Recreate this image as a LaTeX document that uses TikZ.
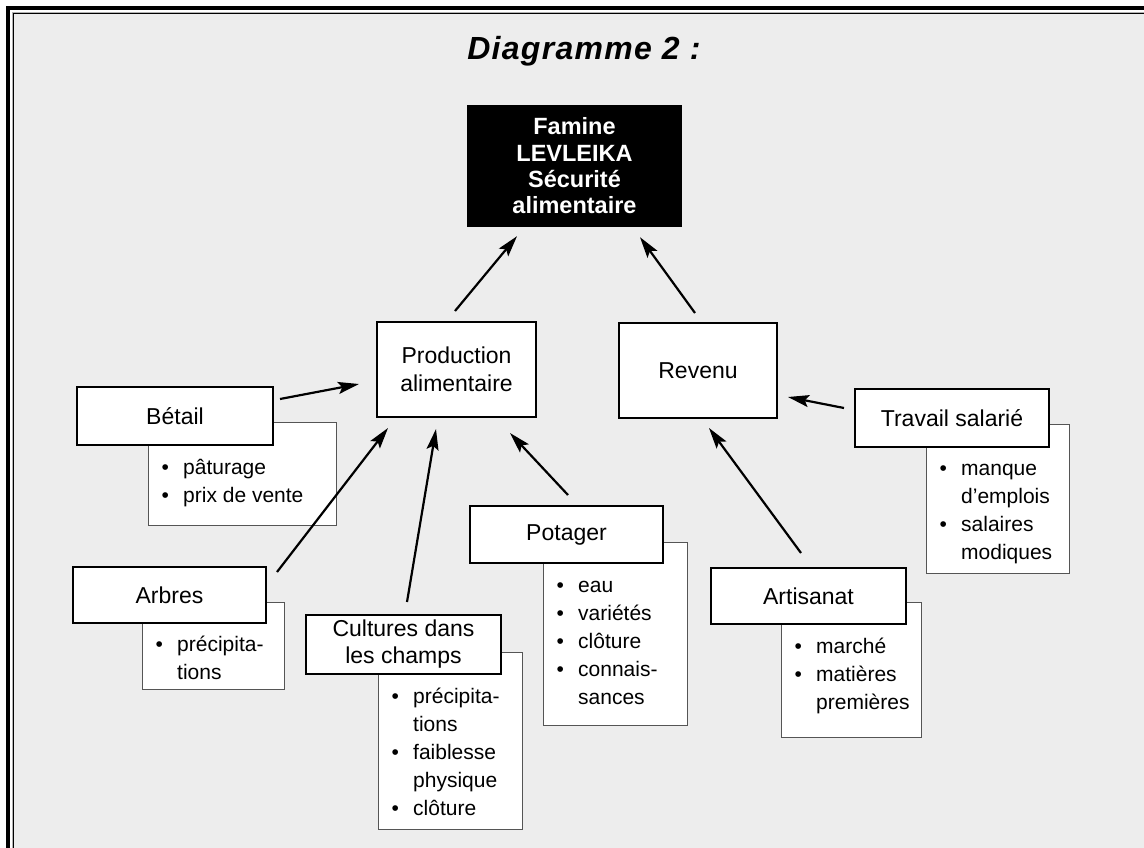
\documentclass[tikz,border=0pt]{standalone}
\usepackage{fontspec}
\setmainfont{Liberation Sans}
\newfontfamily\titlefont{Liberation Sans}[LetterSpace=4]
\usetikzlibrary{arrows.meta}
\definecolor{bgc}{HTML}{EDEDED}
\definecolor{detc}{HTML}{555555}
\newcommand\bl{\makebox[21.5pt][l]{\textbullet}}
\newcommand\ind{\hspace*{21.5pt}}
\newcommand\blist[1]{\begin{tabular}[t]{@{}l@{}}#1\end{tabular}}
\begin{document}
\begin{tikzpicture}[x=1pt,y=-1pt,
  mainbox/.style={draw=black, line width=2pt, fill=white, inner sep=0pt, align=center, font=\fontsize{23}{28}\selectfont},
  detbox/.style={draw=detc, line width=1.1pt, fill=white, inner sep=0pt, anchor=north west},
  listtext/.style={inner sep=0pt, anchor=base west, font=\fontsize{21}{28}\selectfont},
  arr/.style={line width=2.2pt, -{Stealth[length=21pt,width=12pt,inset=4pt]}},
]
\path[use as bounding box] (0,0) rectangle (1144,847);
\clip (0,0) rectangle (1144,847);
% frame
\fill[white] (0,0) rectangle (1144,847);
\draw[line width=4pt] (8,8) rectangle (1200,900);
\draw[gray!60, line width=1pt] (12,12) rectangle (1200,900);
\draw[fill=bgc, line width=1.2pt] (13.6,13.6) rectangle (1200,900);

% title
\node[font=\titlefont\fontsize{32}{38}\selectfont\bfseries\itshape, anchor=base, inner sep=0pt] (title) at (584,59) {Diagramme 2 :};

% top node
\node[fill=black, text=white, inner sep=0pt, minimum width=215pt, minimum height=122pt, align=center, font=\fontsize{23.5}{26.3}\selectfont\bfseries] (famine) at (574.5,166) {Famine\\LEVLEIKA\\Sécurité\\alimentaire};

% detail boxes
\node[detbox, minimum width=188pt, minimum height=103pt] (betaild) at (148,422) {};
\node[detbox, minimum width=142pt, minimum height=87pt] (arbresd) at (142,602) {};
\node[detbox, minimum width=144pt, minimum height=177pt] (culturesd) at (378,652) {};
\node[detbox, minimum width=144pt, minimum height=183pt] (potagerd) at (543,542) {};
\node[detbox, minimum width=140pt, minimum height=135pt] (artisanatd) at (781,602) {};
\node[detbox, minimum width=143pt, minimum height=149pt] (travaild) at (926,424) {};

% main boxes
\node[mainbox, minimum width=159pt, minimum height=95pt] (prod) at (456.5,369.5) {Production\\alimentaire};
\node[mainbox, minimum width=158pt, minimum height=95pt] (revenu) at (698,370.5) {Revenu};
\node[mainbox, minimum width=196pt, minimum height=58pt] (betail) at (175,416) {Bétail};
\node[mainbox, minimum width=193pt, minimum height=56pt] (arbres) at (169.5,595) {Arbres};
\node[mainbox, minimum width=195pt, minimum height=59pt, font=\fontsize{23}{27}\selectfont] (cultures) at (403.5,644.5) {Cultures dans\\les champs};
\node[mainbox, minimum width=193pt, minimum height=57pt] (potager) at (566.5,534.5) {Potager};
\node[mainbox, minimum width=195pt, minimum height=56pt] (artisanat) at (808.5,596) {Artisanat};
\node[mainbox, minimum width=194pt, minimum height=58pt] (travail) at (952,418) {Travail salarié};

% lists
\node[listtext] (betailt) at (161.5,474) {\blist{\bl pâturage\\ \bl prix de vente}};
\node[listtext] (arbrest) at (155.5,651) {\blist{\bl précipita-\\ \ind tions}};
\node[listtext] (culturest) at (391.5,703) {\blist{\bl précipita-\\ \ind tions\\ \bl faiblesse\\ \ind physique\\ \bl clôture}};
\node[listtext] (potagert) at (556.5,592) {\blist{\bl eau\\ \bl variétés\\ \bl clôture\\ \bl connais-\\ \ind sances}};
\node[listtext] (artisanatt) at (794.5,653) {\blist{\bl marché\\ \bl matières\\ \ind premières}};
\node[listtext] (travailt) at (939.5,475) {\blist{\bl manque\\ \ind d’emplois\\ \bl salaires\\ \ind modiques}};

% arrows
\draw[arr] ([shift={(-1.5,-10)}]prod.north) -- ([shift={(-57.5,9)}]famine.south);
\draw[arr] ([shift={(-3,-9)}]revenu.north) -- ([shift={(65.5,10)}]famine.south);
\draw[arr] ([shift={(6,-17)}]betail.east) -- ([shift={(-17,14.5)}]prod.west);
\draw[arr] ([shift={(10,6)}]arbres.north east) -- ([shift={(12,10)}]prod.south west);
\draw[arr] ([shift={(3.5,-12)}]cultures.north) -- ([shift={(-20.5,11)}]prod.south);
\draw[arr] ([shift={(1.5,-10)}]potager.north) -- ([shift={(-27,15)}]prod.south east);
\draw[arr] ([shift={(-7.5,-14)}]artisanat.north) -- ([shift={(11,9)}]revenu.south);
\draw[arr] ([shift={(-10,-10)}]travail.west) -- ([shift={(10,26.5)}]revenu.east);
\end{tikzpicture}
\end{document}
